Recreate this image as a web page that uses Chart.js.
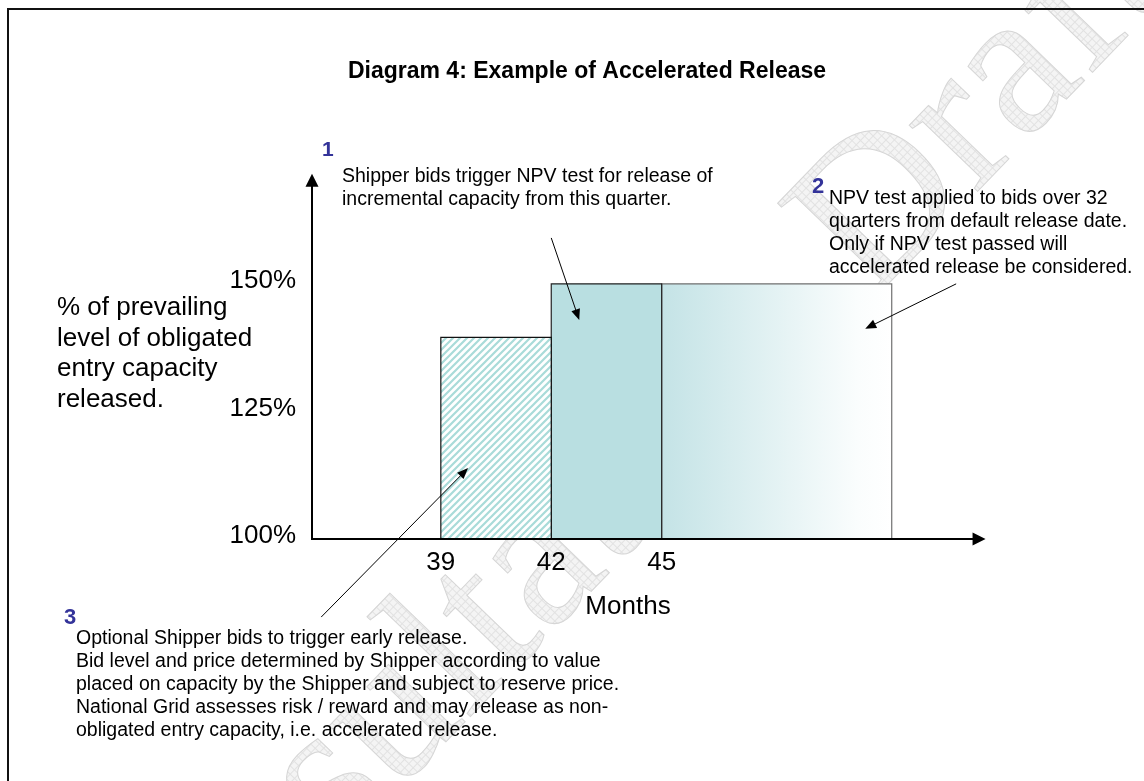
<!DOCTYPE html>
<html>
<head>
<meta charset="utf-8">
<title>Diagram 4: Example of Accelerated Release</title>
<script src="https://cdn.jsdelivr.net/npm/chart.js@4.4.1/dist/chart.umd.min.js"></script>
<style>
  html, body { margin: 0; padding: 0; background: #fff; }
  canvas { display: block; }
</style>
</head>
<body>
<canvas id="releaseChart" width="1144" height="781"></canvas>
<script>
// release blocks: start month, end month and level released (% of obligated)
var blockNames = ['Optional early release', 'Incremental release', 'Accelerated release'];
var blockStart = [39, 42, 45];
var blockEnd = [42, 45, 51.25];
var blockLevel = [139.5, 150, 150];

// axes
var xTicks = [39, 42, 45];
var yTicks = [100, 125, 150];
var xRange = [35.5, 52.67];
var yRange = [100, 172];
var xArrowEnd = 53.8;
var yArrowEnd = 171.6;

var yLabelLines = ['% of prevailing', 'level of obligated', 'entry capacity', 'released.'];

// callouts (arrows given in chart units)
var noteText1 = ['Shipper bids trigger NPV test for release of', 'incremental capacity from this quarter.'];
var noteText2 = ['NPV test applied to bids over 32', 'quarters from default release date.', 'Only if NPV test passed will', 'accelerated release be considered.'];
var noteText3 = ['Optional Shipper bids to trigger early release.', 'Bid level and price determined by Shipper according to value', 'placed on capacity by the Shipper and subject to reserve price.', 'National Grid assesses risk / reward and may release as non-', 'obligated entry capacity, i.e. accelerated release.'];
var noteArrow1 = [[42.0, 159.0], [42.76, 142.9]];
var noteArrow2 = [[53.0, 150.0], [50.53, 141.2]];
var noteArrow3 = [[35.75, 84.7], [39.74, 113.9]];

Chart.defaults.font.family = "'Liberation Sans', Arial, sans-serif";
Chart.defaults.color = '#000';

// diagonal hatch for the optional block
function makeHatch() {
    var c = document.createElement('canvas');
    c.width = 7; c.height = 7;
    var g = c.getContext('2d');
    g.fillStyle = '#fff';
    g.fillRect(0, 0, 7, 7);
    g.strokeStyle = '#a9dbd9';
    g.lineWidth = 2.2;
    g.beginPath();
    g.moveTo(-1, 8); g.lineTo(8, -1);
    g.moveTo(-1, 1); g.lineTo(1, -1);
    g.moveTo(6, 8); g.lineTo(8, 6);
    g.stroke();
    return g.createPattern(c, 'repeat');
}

// light grid used for the watermark
function makeGrid() {
    var c = document.createElement('canvas');
    c.width = 6; c.height = 6;
    var g = c.getContext('2d');
    g.fillStyle = '#f4f4f4';
    g.fillRect(0, 0, 6, 6);
    g.fillStyle = '#e2e2e2';
    g.fillRect(0, 0, 6, 1);
    g.fillRect(0, 0, 1, 6);
    return g.createPattern(c, 'repeat');
}

var hatch = makeHatch();
var grid = makeGrid();

function fadeFill(c) {
    var chart = c.chart;
    var xs = chart.scales.x;
    if (!xs || !chart.chartArea) return '#c4e3e6';
    var i = c.datasetIndex;
    var g = chart.ctx.createLinearGradient(xs.getPixelForValue(blockStart[i]), 0, xs.getPixelForValue(blockEnd[i]), 0);
    g.addColorStop(0, '#c4e3e6');
    g.addColorStop(0.85, '#fafdfd');
    g.addColorStop(1, '#ffffff');
    return g;
}

function blockPoints(i) {
    return [
        {x: blockStart[i], y: yRange[0]},
        {x: blockStart[i], y: blockLevel[i]},
        {x: blockEnd[i], y: blockLevel[i]},
        {x: blockEnd[i], y: yRange[0]}
    ];
}

var fills = [hatch, '#b9dfe1', fadeFill];
var edges = ['#111', '#222', '#707070'];

var datasets = blockNames.map(function (name, i) {
    return {
        label: name,
        data: blockPoints(i),
        borderColor: edges[i],
        borderWidth: 1.2,
        backgroundColor: fills[i],
        fill: {value: yRange[0]},
        pointRadius: 0,
        tension: 0
    };
});

function arrow(ctx, x1, y1, x2, y2, len, half, width) {
    var a = Math.atan2(y2 - y1, x2 - x1);
    var ca = Math.cos(a), sa = Math.sin(a);
    ctx.lineWidth = width;
    ctx.beginPath();
    ctx.moveTo(x1, y1);
    ctx.lineTo(x2 - ca * len * 0.8, y2 - sa * len * 0.8);
    ctx.stroke();
    ctx.beginPath();
    ctx.moveTo(x2, y2);
    ctx.lineTo(x2 - len * ca + half * sa, y2 - len * sa - half * ca);
    ctx.lineTo(x2 - len * ca - half * sa, y2 - len * sa + half * ca);
    ctx.closePath();
    ctx.fill();
}

function textBlock(ctx, lines, x, y, step) {
    lines.forEach(function (t, k) { ctx.fillText(t, x, y + k * step); });
}

var diagramPlugin = {
    id: 'diagram',
    beforeDraw: function (chart) {
        var ctx = chart.ctx;
        ctx.save();
        // watermark
        ctx.translate(100, 1100);
        ctx.rotate(-46 * Math.PI / 180);
        ctx.font = "207px 'Liberation Serif', serif";
        ctx.fillStyle = grid;
        ctx.fillText('Consultation Draft', 0, 0);
        ctx.strokeStyle = '#d6d6d6';
        ctx.lineWidth = 1;
        ctx.strokeText('Consultation Draft', 0, 0);
        ctx.restore();
        // frame
        ctx.save();
        ctx.fillStyle = '#111';
        ctx.fillRect(7, 8, chart.width, 2);
        ctx.fillRect(7, 8, 2, chart.height);
        ctx.restore();
    },
    afterDatasetsDraw: function (chart) {
        var ctx = chart.ctx;
        var xs = chart.scales.x, ys = chart.scales.y;
        var x0 = xs.getPixelForValue(xRange[0]);
        var y0 = ys.getPixelForValue(yRange[0]);
        ctx.save();
        ctx.strokeStyle = '#000';
        ctx.fillStyle = '#000';
        // axes with arrow heads
        arrow(ctx, x0, y0 + 1, x0, ys.getPixelForValue(yArrowEnd), 13, 6.5, 2);
        arrow(ctx, x0 - 1, y0, xs.getPixelForValue(xArrowEnd), y0, 13, 6.5, 2);
        // callout arrows
        [noteArrow1, noteArrow2, noteArrow3].forEach(function (p) {
            arrow(ctx, xs.getPixelForValue(p[0][0]), ys.getPixelForValue(p[0][1]),
                xs.getPixelForValue(p[1][0]), ys.getPixelForValue(p[1][1]), 11, 4.5, 1);
        });

        // y axis label
        ctx.font = "26px 'Liberation Sans', Arial, sans-serif";
        ctx.textBaseline = 'alphabetic';
        ctx.textAlign = 'left';
        textBlock(ctx, yLabelLines, 57, 315, 30.7);

        // callout text
        ctx.font = "19.5px 'Liberation Sans', Arial, sans-serif";
        textBlock(ctx, noteText1, 342, 182, 23);
        textBlock(ctx, noteText2, 829, 204, 23);
        textBlock(ctx, noteText3, 76, 644, 23);

        // callout numbers
        ctx.fillStyle = '#333399';
        ctx.font = "bold 21px 'Liberation Sans', Arial, sans-serif";
        ctx.fillText('1', 322, 156);
        ctx.font = "bold 22px 'Liberation Sans', Arial, sans-serif";
        ctx.fillText('2', 812, 193);
        ctx.fillText('3', 64, 624);
        ctx.restore();
    }
};

var releaseChart = new Chart(document.getElementById('releaseChart'), {
    type: 'line',
    data: {datasets: datasets},
    options: {
        responsive: false,
        animation: false,
        layout: {padding: {left: 30, right: 0, top: 0, bottom: 142}},
        plugins: {
            legend: {display: false},
            tooltip: {enabled: false},
            title: {
                display: true,
                text: 'Diagram 4: Example of Accelerated Release',
                font: {size: 23, weight: 'bold'},
                color: '#000',
                padding: {top: 58, bottom: 86}
            }
        },
        scales: {
            x: {
                type: 'linear',
                min: xRange[0],
                max: xRange[1],
                grid: {display: false, drawTicks: false},
                border: {display: false},
                afterBuildTicks: function (s) { s.ticks = xTicks.map(function (v) { return {value: v}; }); },
                afterFit: function (s) { s.height = 100; },
                ticks: {autoSkip: false, maxRotation: 0, padding: 8, font: {size: 26}, color: '#000'},
                title: {display: true, text: 'Months', font: {size: 26}, color: '#000', padding: {top: 0, bottom: 17}}
            },
            y: {
                position: 'left',
                min: yRange[0],
                max: yRange[1],
                grid: {display: false, drawTicks: false},
                border: {display: false},
                afterBuildTicks: function (s) { s.ticks = yTicks.map(function (v) { return {value: v}; }); },
                afterFit: function (s) { s.width = 282; },
                ticks: {
                    padding: 16,
                    labelOffset: -3,
                    font: {size: 26},
                    color: '#000',
                    callback: function (v) { return v + '%'; }
                }
            },
            yR: {
                position: 'right',
                display: true,
                grid: {display: false, drawTicks: false},
                border: {display: false},
                ticks: {display: false},
                afterFit: function (s) { s.width = 200; }
            }
        }
    },
    plugins: [diagramPlugin]
});
</script>
</body>
</html>
